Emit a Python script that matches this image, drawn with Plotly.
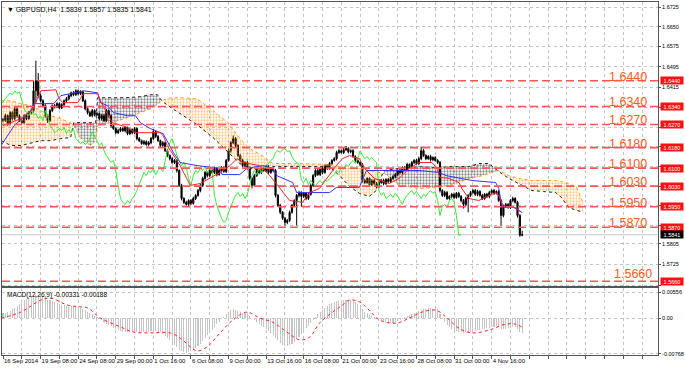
import plotly.graph_objects as go

# ---------------- data ----------------
bar_index = list(range(222))

close_ = [
 1.6285, 1.6304, 1.6273, 1.6316, 1.6293, 1.6331, 1.6304, 1.6285, 1.6277, 1.6304,
 1.6293, 1.6316, 1.6324, 1.6401, 1.6440, 1.6382, 1.6362, 1.6343, 1.6304, 1.6285,
 1.6324, 1.6343, 1.6339, 1.6351, 1.6335, 1.6347, 1.6362, 1.6370, 1.6382, 1.6393,
 1.6386, 1.6401, 1.6390, 1.6397, 1.6362, 1.6331, 1.6316, 1.6304, 1.6324, 1.6308,
 1.6312, 1.6293, 1.6304, 1.6285, 1.6324, 1.6304, 1.6265, 1.6254, 1.6238, 1.6246,
 1.6254, 1.6246, 1.6258, 1.6234, 1.6250, 1.6238, 1.6254, 1.6215, 1.6207, 1.6196,
 1.6203, 1.6192, 1.6199, 1.6215, 1.6242, 1.6223, 1.6207, 1.6188, 1.6199, 1.6168,
 1.6149, 1.6137, 1.6122, 1.6130, 1.6091, 1.6033, 1.5982, 1.5967, 1.5959, 1.5974,
 1.5963, 1.5982, 1.5994, 1.6013, 1.6033, 1.6060, 1.6083, 1.6071, 1.6091, 1.6083,
 1.6099, 1.6075, 1.6091, 1.6102, 1.6087, 1.6130, 1.6168, 1.6199, 1.6215, 1.6188,
 1.6149, 1.6130, 1.6110, 1.6122, 1.6102, 1.6060, 1.6033, 1.6071, 1.6091, 1.6083,
 1.6099, 1.6091, 1.6106, 1.6083, 1.6099, 1.6091, 1.5994, 1.5955, 1.5928, 1.5905,
 1.5889, 1.5897, 1.5928, 1.5955, 1.5974, 1.5994, 1.6005, 1.5990, 1.6002, 1.5982,
 1.5998, 1.6033, 1.6071, 1.6091, 1.6075, 1.6099, 1.6083, 1.6110, 1.6099, 1.6118,
 1.6130, 1.6137, 1.6161, 1.6168, 1.6161, 1.6172, 1.6176, 1.6164, 1.6168, 1.6145,
 1.6130, 1.6122, 1.6114, 1.6052, 1.6044, 1.6060, 1.6036, 1.6052, 1.6040, 1.6029,
 1.6044, 1.6052, 1.6040, 1.6056, 1.6048, 1.6060, 1.6067, 1.6075, 1.6091, 1.6083,
 1.6102, 1.6095, 1.6114, 1.6106, 1.6122, 1.6130, 1.6118, 1.6137, 1.6168, 1.6149,
 1.6137, 1.6145, 1.6133, 1.6141, 1.6130, 1.6122, 1.6013, 1.5994, 1.6005, 1.5982,
 1.5990, 1.5998, 1.5986, 1.6002, 1.5990, 1.5974, 1.5959, 1.5982, 1.5994, 1.6005,
 1.6013, 1.5998, 1.6009, 1.5994, 1.5982, 1.5998, 1.5990, 1.6005, 1.6013, 1.6002,
 1.6009, 1.5974, 1.5916, 1.5951, 1.5959, 1.5947, 1.5974, 1.5982, 1.5967, 1.5916,
 1.5839, 1.5841]

open_ = [
 1.6290, 1.6285, 1.6304, 1.6273, 1.6316, 1.6293, 1.6331, 1.6304, 1.6285, 1.6277,
 1.6304, 1.6293, 1.6316, 1.6324, 1.6401, 1.6440, 1.6382, 1.6362, 1.6343, 1.6304,
 1.6285, 1.6324, 1.6343, 1.6339, 1.6351, 1.6335, 1.6347, 1.6362, 1.6370, 1.6382,
 1.6393, 1.6386, 1.6401, 1.6390, 1.6397, 1.6362, 1.6331, 1.6316, 1.6304, 1.6324,
 1.6308, 1.6312, 1.6293, 1.6304, 1.6285, 1.6324, 1.6304, 1.6265, 1.6254, 1.6238,
 1.6246, 1.6254, 1.6246, 1.6258, 1.6234, 1.6250, 1.6238, 1.6254, 1.6215, 1.6207,
 1.6196, 1.6203, 1.6192, 1.6199, 1.6215, 1.6242, 1.6223, 1.6207, 1.6188, 1.6199,
 1.6168, 1.6149, 1.6137, 1.6122, 1.6130, 1.6091, 1.6033, 1.5982, 1.5967, 1.5959,
 1.5974, 1.5963, 1.5982, 1.5994, 1.6013, 1.6033, 1.6060, 1.6083, 1.6071, 1.6091,
 1.6083, 1.6099, 1.6075, 1.6091, 1.6102, 1.6087, 1.6130, 1.6168, 1.6199, 1.6215,
 1.6188, 1.6149, 1.6130, 1.6110, 1.6122, 1.6102, 1.6060, 1.6033, 1.6071, 1.6091,
 1.6083, 1.6099, 1.6091, 1.6106, 1.6083, 1.6099, 1.6091, 1.5994, 1.5955, 1.5928,
 1.5905, 1.5889, 1.5897, 1.5928, 1.5955, 1.5974, 1.5994, 1.6005, 1.5990, 1.6002,
 1.5982, 1.5998, 1.6033, 1.6071, 1.6091, 1.6075, 1.6099, 1.6083, 1.6110, 1.6099,
 1.6118, 1.6130, 1.6137, 1.6161, 1.6168, 1.6161, 1.6172, 1.6176, 1.6164, 1.6168,
 1.6145, 1.6130, 1.6122, 1.6114, 1.6052, 1.6044, 1.6060, 1.6036, 1.6052, 1.6040,
 1.6029, 1.6044, 1.6052, 1.6040, 1.6056, 1.6048, 1.6060, 1.6067, 1.6075, 1.6091,
 1.6083, 1.6102, 1.6095, 1.6114, 1.6106, 1.6122, 1.6130, 1.6118, 1.6137, 1.6168,
 1.6149, 1.6137, 1.6145, 1.6133, 1.6141, 1.6130, 1.6122, 1.6013, 1.5994, 1.6005,
 1.5982, 1.5990, 1.5998, 1.5986, 1.6002, 1.5990, 1.5974, 1.5959, 1.5982, 1.5994,
 1.6005, 1.6013, 1.5998, 1.6009, 1.5994, 1.5982, 1.5998, 1.5990, 1.6005, 1.6013,
 1.6002, 1.6009, 1.5974, 1.5916, 1.5951, 1.5959, 1.5947, 1.5974, 1.5982, 1.5967,
 1.5916, 1.5839]

# wick lengths in pips (upper above max(open, close), lower below min(open, close))
upper_wick_pips = [
 6, 8, 5, 7, 6, 10, 6, 5, 7, 6,   5, 7, 6, 40, 78, 30, 8, 6, 7, 6,
 6, 5, 7, 6, 5, 6, 5, 7, 6, 5,    7, 6, 5, 6, 4, 6, 5, 7, 6, 5,
 6, 5, 7, 8, 6, 5, 4, 6, 5, 7,    6, 5, 6, 4, 7, 5, 6, 5, 6, 4,
 6, 5, 7, 6, 10, 5, 6, 4, 6, 5,   6, 5, 7, 6, 5, 4, 6, 5, 6, 5,
 6, 7, 5, 6, 5, 7, 6, 5, 6, 5,    6, 5, 7, 6, 5, 6, 8, 7, 12, 6,
 5, 6, 7, 5, 6, 4, 5, 6, 7, 5,    6, 5, 7, 6, 5, 4, 6, 5, 6, 5,
 6, 5, 7, 6, 5, 6, 7, 5, 6, 5,    6, 7, 6, 5, 7, 6, 5, 6, 5, 6,
 5, 6, 7, 6, 5, 8, 10, 6, 5, 6,   5, 6, 5, 6, 7, 5, 6, 5, 7, 6,
 5, 6, 7, 5, 6, 5, 6, 7, 5, 6,    5, 6, 7, 5, 6, 5, 6, 8, 16, 6,
 5, 6, 7, 5, 6, 5, 6, 5, 7, 6,    5, 6, 7, 5, 6, 5, 6, 7, 5, 6,
 5, 6, 7, 5, 6, 5, 6, 7, 5, 6,    5, 6, 5, 7, 6, 5, 6, 7, 5, 6,
 5, 16]
lower_wick_pips = [
 7, 5, 8, 6, 7, 6, 9, 5, 6, 7,    6, 5, 7, 8, 46, 10, 6, 7, 8, 9,
 5, 6, 7, 5, 6, 5, 6, 5, 7, 6,    6, 5, 7, 6, 5, 6, 7, 5, 6, 7,
 5, 6, 7, 6, 5, 6, 7, 5, 6, 5,    6, 5, 7, 6, 5, 6, 5, 7, 6, 5,
 6, 5, 7, 6, 5, 6, 5, 7, 6, 5,    6, 7, 5, 6, 8, 6, 7, 6, 5, 6,
 7, 5, 6, 5, 7, 6, 5, 7, 6, 5,    6, 7, 5, 6, 5, 6, 5, 7, 6, 8,
 6, 7, 5, 6, 8, 7, 12, 6, 5, 7,   6, 5, 7, 6, 5, 7, 8, 6, 7, 6,
 12, 7, 6, 5, 6, 97, 8, 40, 6, 7, 6, 5, 7, 6, 5, 6, 7, 5, 6, 5,
 6, 5, 7, 6, 5, 6, 5, 7, 6, 5,    6, 5, 7, 8, 6, 5, 7, 6, 5, 8,
 6, 5, 7, 6, 5, 6, 5, 7, 6, 5,    6, 5, 7, 6, 5, 6, 5, 7, 6, 5,
 6, 5, 7, 6, 5, 6, 8, 6, 7, 6,    5, 6, 7, 5, 6, 7, 16, 6, 54, 6,
 5, 6, 7, 5, 6, 5, 6, 7, 5, 6,    5, 6, 39, 7, 6, 5, 6, 7, 5, 8,
 6, 4]

# Ichimoku lines (bar index, price)
tenkan_x = [0, 7.6, 12.7, 16.1, 22.5, 23.7, 25.4, 31.8, 34.3, 40.3, 41.5, 43.2, 46.6, 52.1,
            56.4, 66.9, 68.2, 69.9, 75.4, 78.4, 79.7, 83.9, 88.1, 92.4, 96.6, 99.6, 102.1,
            109.3, 113.6, 117.8, 122, 127.5, 130.5, 134.7, 137.7, 141.9, 144.5, 147.5, 151.7,
            153.8, 158.1, 164.4, 168.6, 172.9, 177.1, 182.6, 184.7, 186, 189.8, 194.1, 195.3,
            198.3, 202.5, 206.8, 209.7, 211, 213.1, 218.2, 220.8]
tenkan_y = [1.6265, 1.6293, 1.6331, 1.6401, 1.6405, 1.6374, 1.6355, 1.6355, 1.6390, 1.6390,
            1.6362, 1.6331, 1.6277, 1.6261, 1.6238, 1.6238, 1.6227, 1.6188, 1.6110, 1.6060,
            1.6033, 1.6040, 1.6060, 1.6083, 1.6110, 1.6137, 1.6122, 1.6110, 1.6071, 1.6021,
            1.5974, 1.5967, 1.6005, 1.6021, 1.6060, 1.6110, 1.6137, 1.6149, 1.6137, 1.6099,
            1.6060, 1.6040, 1.6060, 1.6099, 1.6122, 1.6122, 1.6099, 1.6064, 1.6060, 1.6044,
            1.6021, 1.5982, 1.5974, 1.5994, 1.6005, 1.5994, 1.5947, 1.5947, 1.5928]

kijun_x = [-0.8, 2.1, 4.7, 11.9, 13.1, 21.6, 24.6, 34.3, 40.3, 41.5, 44.5, 47, 53, 56.4, 58.5,
           62.7, 68.2, 72.5, 75.4, 82.6, 92.4, 93.2, 100.8, 103.8, 110.6, 114.8, 116.5, 123.3,
           125, 139, 141.9, 151.7, 154.7, 177.1, 185.6, 188.6, 195.3, 199.6, 209.7, 211, 212.3,
           217.4, 220.8]
kijun_y = [1.6188, 1.6227, 1.6265, 1.6324, 1.6351, 1.6351, 1.6382, 1.6401, 1.6393, 1.6355,
           1.6343, 1.6316, 1.6304, 1.6304, 1.6277, 1.6254, 1.6234, 1.6161, 1.6122, 1.6110,
           1.6099, 1.6075, 1.6075, 1.6099, 1.6110, 1.6099, 1.6071, 1.6044, 1.6005, 1.6005,
           1.6025, 1.6025, 1.6091, 1.6091, 1.6083, 1.6071, 1.6060, 1.6052, 1.6044, 1.6021,
           1.5955, 1.5947, 1.5928]

cloud_x = [-0.8, 3.4, 7.6, 11.9, 16.1, 20.3, 24.6, 28.8, 30.1, 33.1, 37.3, 39.4, 40.3, 45.8,
           52.1, 58.5, 62.7, 65.7, 67.8, 71.6, 75.4, 82.6, 89.4, 95.8, 100.8, 105.1, 110.2,
           114.8, 126.3, 139.0, 143.2, 147.5, 151.7, 155.9, 158.9, 160.2, 162.3, 168.6, 177.1,
           185.6, 189.8, 194.1, 198.3, 202.5, 206.8, 211.0, 215.3, 219.5, 225.0, 230.1, 235.2,
           237.7, 240.7, 244.1, 247.0]
span_a = [1.6362, 1.6362, 1.6351, 1.6343, 1.6324, 1.6304, 1.6293, 1.6277, 1.6269, 1.6215,
          1.6188, 1.6207, 1.6265, 1.6277, 1.6293, 1.6316, 1.6331, 1.6347, 1.6364, 1.6374,
          1.6374, 1.6370, 1.6324, 1.6277, 1.6215, 1.6176, 1.6149, 1.6118, 1.6118, 1.6114,
          1.6106, 1.6099, 1.6099, 1.6091, 1.6083, 1.6083, 1.6079, 1.6033, 1.6021, 1.6025,
          1.6033, 1.6044, 1.6060, 1.6067, 1.6079, 1.6091, 1.6071, 1.6060, 1.6052, 1.6052,
          1.6052, 1.6048, 1.6040, 1.6029, 1.5963]
span_b = [1.6207, 1.6188, 1.6188, 1.6199, 1.6207, 1.6207, 1.6215, 1.6219, 1.6277, 1.6277,
          1.6277, 1.6277, 1.6374, 1.6374, 1.6374, 1.6378, 1.6386, 1.6386, 1.6360, 1.6335,
          1.6312, 1.6269, 1.6219, 1.6161, 1.6118, 1.6099, 1.6091, 1.6106, 1.6106, 1.6106,
          1.6071, 1.6029, 1.6002, 1.5990, 1.6013, 1.6052, 1.6091, 1.6099, 1.6106, 1.6102,
          1.6106, 1.6106, 1.6106, 1.6118, 1.6118, 1.6087, 1.6060, 1.6040, 1.6013, 1.6009,
          1.6005, 1.5986, 1.5947, 1.5936, 1.5928]

# MACD main (histogram) per bar and signal line
macd_main = [
 0.0010, 0.0012, 0.0014, 0.0016, 0.0019, 0.0022, 0.0026, 0.0030, 0.0034, 0.0038,
 0.0042, 0.0045, 0.0047, 0.0049, 0.0050, 0.0049, 0.0047, 0.0045, 0.0042, 0.0040,
 0.0038, 0.0036, 0.0034, 0.0032, 0.0030, 0.0029, 0.0028, 0.0027, 0.0027, 0.0026,
 0.0025, 0.0024, 0.0023, 0.0022, 0.0020, 0.0017, 0.0014, 0.0011, 0.0008, 0.0005,
 0.0002, -0.0002, -0.0005, -0.0009, -0.0012, -0.0015, -0.0018, -0.0021, -0.0024, -0.0026,
 -0.0028, -0.0029, -0.0030, -0.0030, -0.0031, -0.0031, -0.0031, -0.0030, -0.0030, -0.0031,
 -0.0031, -0.0030, -0.0029, -0.0028, -0.0027, -0.0028, -0.0029, -0.0031, -0.0034, -0.0038,
 -0.0043, -0.0048, -0.0053, -0.0058, -0.0063, -0.0068, -0.0072, -0.0074, -0.0075, -0.0074,
 -0.0072, -0.0069, -0.0065, -0.0060, -0.0055, -0.0049, -0.0043, -0.0037, -0.0031, -0.0025,
 -0.0019, -0.0013, -0.0008, -0.0003, 0.0002, 0.0008, 0.0013, 0.0017, 0.0019, 0.0018,
 0.0016, 0.0014, 0.0012, 0.0010, 0.0007, 0.0004, 0.0000, -0.0004, -0.0008, -0.0012,
 -0.0016, -0.0020, -0.0024, -0.0028, -0.0032, -0.0036, -0.0042, -0.0048, -0.0053, -0.0057,
 -0.0060, -0.0061, -0.0059, -0.0056, -0.0052, -0.0046, -0.0040, -0.0034, -0.0028, -0.0022,
 -0.0016, -0.0010, -0.0004, 0.0002, 0.0008, 0.0013, 0.0018, 0.0022, 0.0026, 0.0030,
 0.0033, 0.0035, 0.0037, 0.0039, 0.0040, 0.0040, 0.0040, 0.0039, 0.0038, 0.0036,
 0.0034, 0.0031, 0.0028, 0.0020, 0.0014, 0.0010, 0.0006, 0.0004, 0.0002, 0.0000,
 -0.0002, -0.0005, -0.0007, -0.0009, -0.0010, -0.0011, -0.0010, -0.0009, -0.0007, -0.0004,
 -0.0001, 0.0002, 0.0005, 0.0007, 0.0009, 0.0011, 0.0013, 0.0015, 0.0018, 0.0019,
 0.0020, 0.0021, 0.0021, 0.0020, 0.0020, 0.0019, 0.0008, 0.0000, -0.0008, -0.0014,
 -0.0019, -0.0023, -0.0026, -0.0028, -0.0030, -0.0031, -0.0032, -0.0031, -0.0030, -0.0029,
 -0.0028, -0.0027, -0.0026, -0.0025, -0.0024, -0.0023, -0.0022, -0.0021, -0.0020, -0.0019,
 -0.0018, -0.0019, -0.0024, -0.0024, -0.0023, -0.0022, -0.0021, -0.0020, -0.0020, -0.0024,
 -0.0029, -0.0033]

signal_x = [-0.8, 7.6, 16.1, 20.3, 27.5, 33.1, 36, 41.5, 50, 55.5, 62.7, 71.2, 75.4, 79.7, 82.6,
            86.9, 92.4, 97.9, 103.8, 109.3, 114.8, 120.8, 126.3, 130.5, 134.7, 140.3, 144.5,
            147.5, 151.7, 155.9, 160.2, 167.4, 172.9, 178.4, 184.3, 188.6, 194.1, 199.6, 206.8,
            214, 218.2, 220.8]
signal_y = [0.0, 0.0013, 0.0039, 0.0043, 0.0028, 0.0024, 0.0022, 0.0, -0.0019, -0.0030,
            -0.0032, -0.0032, -0.0043, -0.0062, -0.0071, -0.0062, -0.0032, -0.0004, 0.0013,
            0.0, -0.0009, -0.0030, -0.0047, -0.0041, -0.0011, 0.0013, 0.0028, 0.0039, 0.0035,
            0.0017, -0.0004, -0.0011, 0.0, 0.0013, 0.0017, 0.0002, -0.0022, -0.0032, -0.0026,
            -0.0013, -0.0013, -0.0019]

level_prices = [1.6440, 1.6340, 1.6270, 1.6180, 1.6100, 1.6030, 1.5950, 1.5870, 1.5660]
level_labels = ["1.6440", "1.6340", "1.6270", "1.6180", "1.6100", "1.6030", "1.5950", "1.5870", "1.5660"]
bid_price = 1.5841

price_tick_vals = [1.6725, 1.6650, 1.6575, 1.6495, 1.6415, 1.6337, 1.6260, 1.6183, 1.6107,
                   1.6030, 1.5953, 1.5877, 1.5805, 1.5725, 1.5645]
price_tick_text = ["1.6725", "1.6650", "1.6575", "1.6495", "1.6415", "", "", "", "",
                   "", "", "", "1.5805", "1.5725", ""]
macd_tick_vals = [0.00556, 0.0, -0.00768]
macd_tick_text = ["0.00556", "0.00", "-0.00768"]

time_tick_bars = [0, 16, 32, 48, 64, 80, 96, 112, 128, 144, 160, 176, 192, 208]
time_tick_text = ["16 Sep 2014", "19 Sep 08:00", "24 Sep 08:00", "29 Sep 00:00", "1 Oct 16:00",
                  "6 Oct 08:00", "9 Oct 00:00", "13 Oct 16:00", "16 Oct 08:00", "21 Oct 00:00",
                  "23 Oct 16:00", "28 Oct 08:00", "31 Oct 00:00", "4 Nov 16:00"]
grid_bars = list(range(0, 279, 8))

# ---------------- build ----------------
PIP = 0.0001
high_ = [max(o, c) + w * PIP for o, c, w in zip(open_, close_, upper_wick_pips)]
low_ = [min(o, c) - w * PIP for o, c, w in zip(open_, close_, lower_wick_pips)]

FONT = "Liberation Sans, Arial, sans-serif"
ORANGE = "#FF9A1F"
fig = go.Figure()

# Kumo polygons split where span A and span B cross
def cloud_runs(xs, a, b):
    runs = []
    cur = {"x": [xs[0]], "a": [a[0]], "b": [b[0]], "up": a[0] >= b[0]}
    for k in range(1, len(xs)):
        d0 = a[k - 1] - b[k - 1]
        d1 = a[k] - b[k]
        if (d0 >= 0) != (d1 >= 0):
            t = d0 / (d0 - d1)
            xi = xs[k - 1] + t * (xs[k] - xs[k - 1])
            yi = a[k - 1] + t * (a[k] - a[k - 1])
            cur["x"].append(xi); cur["a"].append(yi); cur["b"].append(yi)
            runs.append(cur)
            cur = {"x": [xi], "a": [yi], "b": [yi], "up": d1 >= 0}
        cur["x"].append(xs[k]); cur["a"].append(a[k]); cur["b"].append(b[k])
    runs.append(cur)
    return runs

for r in cloud_runs(cloud_x, span_a, span_b):
    col = ORANGE if r["up"] else "#111111"
    fig.add_trace(go.Scatter(
        x=r["x"] + r["x"][::-1], y=r["a"] + r["b"][::-1],
        fill="toself", mode="lines", line=dict(width=0),
        fillcolor="rgba(0,0,0,0)",
        fillpattern=dict(shape=".", fgcolor=col, bgcolor="rgba(0,0,0,0)", size=3, solidity=0.45),
        hoverinfo="skip", showlegend=False, xaxis="x", yaxis="y"))

fig.add_trace(go.Scatter(x=cloud_x, y=span_a, mode="lines",
                         line=dict(color=ORANGE, width=1, dash="dot"),
                         showlegend=False, xaxis="x", yaxis="y"))
fig.add_trace(go.Scatter(x=cloud_x, y=span_b, mode="lines",
                         line=dict(color="#222222", width=1, dash="dot"),
                         showlegend=False, xaxis="x", yaxis="y"))

fig.add_trace(go.Candlestick(
    x=bar_index, open=open_, high=high_, low=low_, close=close_,
    increasing=dict(line=dict(color="black", width=1), fillcolor="black"),
    decreasing=dict(line=dict(color="black", width=1), fillcolor="black"),
    whiskerwidth=0, showlegend=False, xaxis="x", yaxis="y"))

fig.add_trace(go.Scatter(x=[i - 26 for i in bar_index], y=close_, mode="lines",
                         line=dict(color="#33EE33", width=1), showlegend=False,
                         xaxis="x", yaxis="y"))
fig.add_trace(go.Scatter(x=kijun_x, y=kijun_y, mode="lines",
                         line=dict(color="#3333FF", width=1), showlegend=False,
                         xaxis="x", yaxis="y"))
fig.add_trace(go.Scatter(x=tenkan_x, y=tenkan_y, mode="lines",
                         line=dict(color="#FF2020", width=1), showlegend=False,
                         xaxis="x", yaxis="y"))

# MACD panel
fig.add_trace(go.Bar(x=bar_index, y=macd_main, width=0.45,
                     marker=dict(color="#C4C4C4", line=dict(width=0)),
                     showlegend=False, xaxis="x2", yaxis="y2"))
fig.add_trace(go.Scatter(x=signal_x, y=signal_y, mode="lines",
                         line=dict(color="#FF2020", width=1, dash="dot", shape="spline"),
                         showlegend=False, xaxis="x2", yaxis="y2"))

shapes = []
for p in level_prices:
    shapes.append(dict(type="line", xref="paper", yref="y", x0=0, x1=1, y0=p, y1=p,
                       line=dict(color="#FF5555", width=1.6, dash="8px,4px"), layer="above"))
shapes.append(dict(type="line", xref="paper", yref="y", x0=0, x1=1, y0=bid_price, y1=bid_price,
                   line=dict(color="#C8C8C8", width=1), layer="below"))

# plot area spans pixels 1..660 horizontally
def px_to_paper(px):
    return (px - 1) / 659.0

annotations = []
for p, t in zip(level_prices, level_labels):
    last = (t == "1.5660")
    annotations.append(dict(xref="paper", yref="y", x=px_to_paper(614 if last else 609), y=p,
                            xanchor="left", yanchor="middle", yshift=7 if last else 4,
                            text=t, showarrow=False,
                            font=dict(family=FONT, size=12.5, color="#FF5A1E")))
    annotations.append(dict(xref="paper", yref="y", x=1, y=p, xanchor="left", yanchor="middle",
                            xshift=2, text=t, showarrow=False, bgcolor="#FF1010",
                            width=22, height=7, borderpad=0,
                            font=dict(family=FONT, size=5.5, color="white")))
annotations.append(dict(xref="paper", yref="y", x=1, y=bid_price, xanchor="left", yanchor="middle",
                        xshift=2, text="1.5841", showarrow=False, bgcolor="black",
                        width=22, height=7, borderpad=0, font=dict(family=FONT, size=5.5, color="white")))
annotations.append(dict(xref="paper", yref="paper", x=0, y=1, xanchor="left", yanchor="top",
                        xshift=3, yshift=-2, showarrow=False,
                        text="▼ GBPUSD,H4  1.5839 1.5857 1.5835 1.5841",
                        font=dict(family=FONT, size=7, color="black")))
annotations.append(dict(xref="paper", yref="y2 domain", x=0, y=1, xanchor="left", yanchor="top",
                        xshift=3, yshift=-1, showarrow=False,
                        text="MACD(12,26,9) -0.00331 -0.00188",
                        font=dict(family=FONT, size=6.5, color="black")))

grid_col = "#C4C4C4"
x_range = [-0.424, 278.8]
fig.update_layout(
    width=685, height=371,
    margin=dict(l=1, r=25, t=1, b=16),
    paper_bgcolor="white", plot_bgcolor="white",
    bargap=0, showlegend=False, hovermode=False,
    shapes=shapes, annotations=annotations,
    font=dict(family=FONT, size=6, color="black"),
    xaxis=dict(domain=[0, 1], anchor="y", range=x_range, rangeslider=dict(visible=False),
               tickmode="array", tickvals=grid_bars, showticklabels=False, ticks="",
               showgrid=True, gridcolor=grid_col, griddash="dot", gridwidth=1,
               showline=True, linecolor="#555555", linewidth=1, mirror=True, zeroline=False),
    yaxis=dict(domain=[0.19492, 1.0], anchor="x", side="right", range=[1.56407, 1.67465],
               tickmode="array", tickvals=price_tick_vals, ticktext=price_tick_text,
               ticks="outside", ticklen=2, tickcolor="#555555", tickfont=dict(size=5.5),
               showgrid=True, gridcolor=grid_col, griddash="dot", gridwidth=1,
               showline=True, linecolor="#555555", linewidth=1, mirror=True, zeroline=False),
    xaxis2=dict(domain=[0, 1], anchor="y2", range=x_range, matches="x",
                tickmode="array", tickvals=grid_bars,
                ticktext=[time_tick_text[time_tick_bars.index(v)] if v in time_tick_bars else ""
                          for v in grid_bars],
                ticks="outside", ticklen=3, tickcolor="#555555", tickangle=0,
                ticklabelposition="outside right", tickfont=dict(size=6),
                showgrid=True, gridcolor=grid_col, griddash="dot", gridwidth=1,
                showline=True, linecolor="#555555", linewidth=1, mirror=True, zeroline=False),
    yaxis2=dict(domain=[0, 0.18927], anchor="x2", side="right", range=[-0.00796, 0.00645],
                tickmode="array", tickvals=macd_tick_vals, ticktext=macd_tick_text,
                ticks="outside", ticklen=2, tickcolor="#555555", tickfont=dict(size=5.5),
                showgrid=True, gridcolor=grid_col, griddash="dot", gridwidth=1,
                showline=True, linecolor="#555555", linewidth=1, mirror=True, zeroline=False),
)

fig.write_html("out.html", config={"displayModeBar": False, "staticPlot": True},
               post_script="document.body.style.margin='0px';")
